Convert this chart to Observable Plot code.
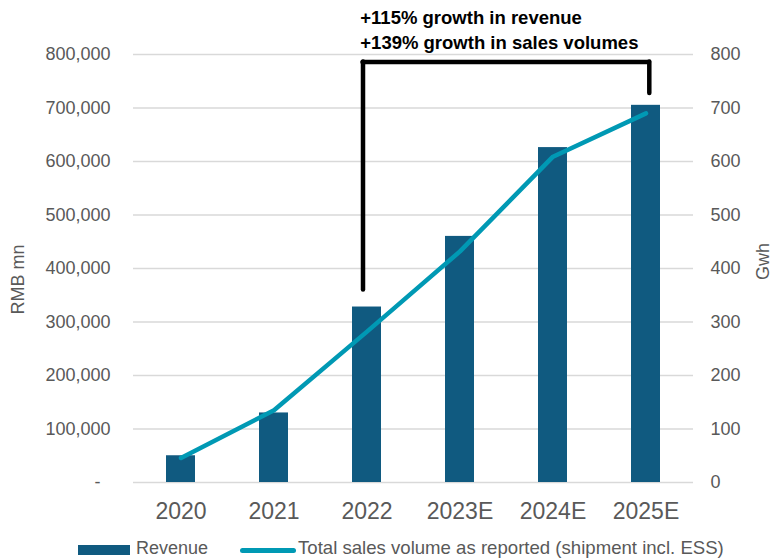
<!DOCTYPE html>
<html>
<head>
<meta charset="utf-8">
<script src="https://cdn.jsdelivr.net/npm/d3@7"></script>
<script src="https://cdn.jsdelivr.net/npm/@observablehq/plot@0.6"></script>
<style>
  body { margin: 0; background: #fff; font-family: "Liberation Sans", Arial, sans-serif; }
  #wrap { width: 777px; height: 558px; position: relative; overflow: hidden; }
  #legend { position: relative; height: 20px; color: #595959; font-size: 18px; }
  #legend div { position: absolute; }
</style>
</head>
<body>
<div id="wrap">
  <div id="chart"></div>
  <div id="legend">
    <div style="left:78px; top:7px; width:52px; height:10px; background:#105a80;"></div>
    <div style="left:136px; top:0px; line-height:20px;">Revenue</div>
    <div style="left:240px; top:9.5px; width:56px; height:5px; border-radius:3px; background:#0099b4;"></div>
    <div style="left:298px; top:0px; line-height:20px; white-space:nowrap; font-size:18.6px;">Total sales volume as reported (shipment incl. ESS)</div>
  </div>
</div>
<script>
const years = ["2020", "2021", "2022", "2023E", "2024E", "2025E"];
const revenue = [50000, 130000, 328000, 460000, 626000, 705000];   // RMB mn
const volume = [46, 135, 282, 432, 609, 690];                       // GWh
const leftTicks = [0, 100000, 200000, 300000, 400000, 500000, 600000, 700000, 800000];
const rightTicks = [0, 100, 200, 300, 400, 500, 600, 700, 800];
const gwhToAxis = 1000; // right axis (GWh) mapped onto left axis (RMB mn)
const annotation = ["+115% growth in revenue", "+139% growth in sales volumes"];
const bracketLeft = {year: "2022", y1: 360000, y2: 786000};
const bracketRight = {year: "2025E", y1: 727000, y2: 786000};
const bracketTop = {from: "2022", to: "2025E", y: 786000};

const barData = years.map((year, i) => ({year, value: revenue[i]}));
const lineData = years.map((year, i) => ({year, value: volume[i] * gwhToAxis}));

const grey = "#595959";
const font = "'Liberation Sans', Arial, sans-serif";

const chart = Plot.plot({
  width: 777,
  height: 538,
  marginTop: 54,
  marginBottom: 56,
  marginLeft: 133,
  marginRight: 84,
  style: {fontFamily: font, color: grey, background: "#fff", overflow: "visible"},
  x: {type: "band", domain: years, paddingInner: 0.69, paddingOuter: 0.345},
  y: {domain: [0, 800000]},
  marks: [
    Plot.ruleY(leftTicks, {stroke: "#d9d9d9", strokeWidth: 1.5}),
    Plot.axisX({tickSize: 0, tickPadding: 20.5, fontSize: 23, fill: grey, label: null}),
    Plot.axisY(leftTicks, {
      anchor: "left", tickSize: 0, tickPadding: 23, fontSize: 18, fill: grey, label: null,
      tickFormat: d => d === 0 ? "-\u2007" : d3.format(",")(d)
    }),
    Plot.axisY(rightTicks.map(t => t * gwhToAxis), {
      anchor: "right", tickSize: 0, tickPadding: 17, fontSize: 18, fill: grey, label: null,
      tickFormat: d => String(d / gwhToAxis)
    }),
    Plot.text(["RMB mn"], {frameAnchor: "left", textAnchor: "middle", rotate: -90, dx: -115, dy: 11, fontSize: 18, fill: grey}),
    Plot.text(["Gwh"], {frameAnchor: "right", textAnchor: "middle", rotate: -90, dx: 70, dy: -7, fontSize: 18, fill: grey}),
    Plot.barY(barData, {x: "year", y: "value", fill: "#105a80"}),
    Plot.line(lineData, {x: "year", y: "value", stroke: "#0099b4", strokeWidth: 4.5,
      strokeLinecap: "round", strokeLinejoin: "round"}),
    Plot.ruleX([bracketLeft], {x: "year", y1: "y1", y2: "y2", dx: -4, stroke: "#000", strokeWidth: 4.5, strokeLinecap: "round"}),
    Plot.ruleX([bracketRight], {x: "year", y1: "y1", y2: "y2", dx: 3.3, stroke: "#000", strokeWidth: 4.5, strokeLinecap: "round"}),
    Plot.ruleY([bracketTop], {x1: "from", x2: "to", y: "y", insetLeft: 10.5, insetRight: 11,
      stroke: "#000", strokeWidth: 4.5, strokeLinecap: "round"}),
    Plot.text([annotation.join("\n")], {
      x: () => "2022", frameAnchor: "top", dx: -6.7, dy: -26, textAnchor: "start", lineAnchor: "middle",
      lineHeight: 1.38, fontSize: 18.5, fontWeight: "bold", fill: "#000"
    })
  ]
});
document.getElementById("chart").appendChild(chart);
</script>
</body>
</html>
